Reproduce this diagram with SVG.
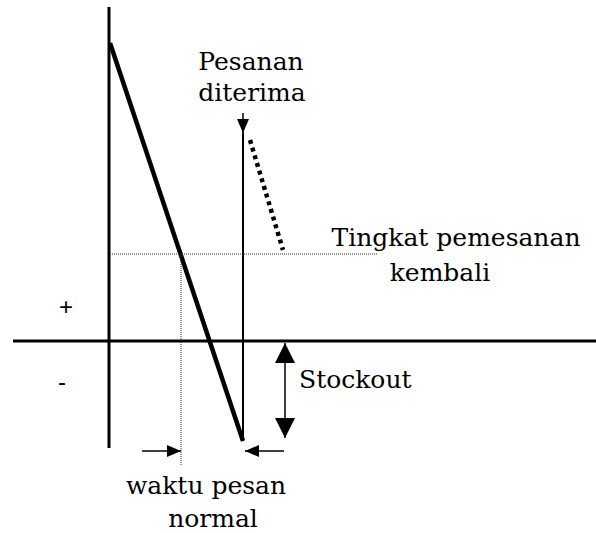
<svg xmlns="http://www.w3.org/2000/svg" width="596" height="533" viewBox="0 0 596 533">
<defs>
<marker id="ahs" viewBox="0 0 14 12" refX="14" refY="6" markerWidth="14" markerHeight="12" markerUnits="userSpaceOnUse" orient="auto">
<path d="M0,0 L14,6 L0,12 z" fill="#000"/>
</marker>
<marker id="ahb" viewBox="0 0 20 20" refX="20" refY="10" markerWidth="20" markerHeight="20" markerUnits="userSpaceOnUse" orient="auto">
<path d="M0,0 L20,10 L0,20 z" fill="#000"/>
</marker>
</defs>
<style>
.lbl{font-family:"DejaVu Serif","Liberation Serif",serif;font-size:25px;fill:#000;text-anchor:middle}
.sgn{font-family:"Liberation Sans",Arial,sans-serif;font-size:24px;fill:#000;text-anchor:middle}
.ax{stroke:#000;stroke-width:3;fill:none}
.dot{stroke:#333;stroke-width:1;stroke-dasharray:1,1;fill:none}
</style>
<g id="connectors">
<line class="ax" x1="109" y1="7" x2="109" y2="448"/>
<line class="ax" x1="13" y1="341" x2="596" y2="341"/>
<line x1="110" y1="43" x2="243" y2="441" stroke="#000" stroke-width="4.5"/>
<line x1="243" y1="133" x2="243" y2="441" stroke="#000" stroke-width="2"/>
<line x1="250" y1="140" x2="283" y2="250" stroke="#000" stroke-width="4.5" stroke-dasharray="4,4"/>
<line class="dot" x1="110" y1="254" x2="378" y2="254"/>
<line class="dot" x1="181" y1="254" x2="181" y2="466"/>
<line x1="243" y1="113" x2="243" y2="133" stroke="#000" stroke-width="1.5" marker-end="url(#ahs)"/>
<line x1="142" y1="451" x2="181" y2="451" stroke="#000" stroke-width="1.5" marker-end="url(#ahs)"/>
<line x1="284" y1="451" x2="245" y2="451" stroke="#000" stroke-width="1.5" marker-end="url(#ahs)"/>
<line x1="285" y1="390" x2="285" y2="343" stroke="#000" stroke-width="1.5" marker-end="url(#ahb)"/>
<line x1="285" y1="390" x2="285" y2="438" stroke="#000" stroke-width="1.5" marker-end="url(#ahb)"/>
</g>
<g id="pesanan">
<text class="lbl" x="251" y="70">Pesanan</text>
<text class="lbl" x="252" y="101">diterima</text>
</g>
<g id="tingkat">
<text class="lbl" x="456" y="246">Tingkat pemesanan</text>
<text class="lbl" x="440" y="281">kembali</text>
</g>
<g id="stockout">
<text class="lbl" x="299" y="388" style="text-anchor:start">Stockout</text>
</g>
<g id="waktu">
<text class="lbl" x="206" y="494">waktu pesan</text>
<text class="lbl" x="213" y="527">normal</text>
</g>
<g id="signs">
<text class="sgn" x="66" y="315">+</text>
<text class="sgn" x="62" y="390">-</text>
</g>
</svg>
